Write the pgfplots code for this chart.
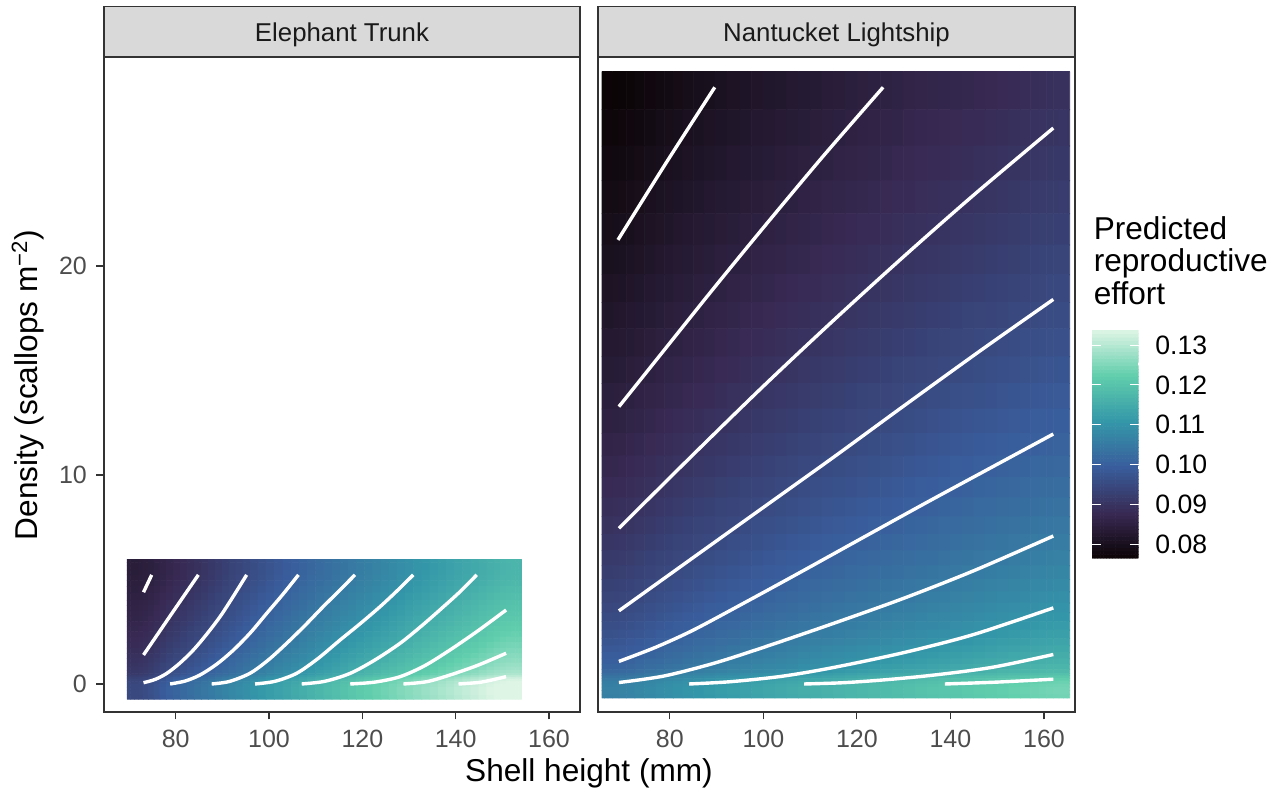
\documentclass[border=0pt]{standalone}
\usepackage{fontspec}
\setmainfont{Liberation Sans}
\usepackage{pgfplots}
\usepgfplotslibrary{patchplots}
\pgfplotsset{compat=1.18}
\definecolor{axgray}{HTML}{333333}
\definecolor{tickgray}{HTML}{4D4D4D}
\definecolor{stripgray}{HTML}{D9D9D9}
\definecolor{striptext}{HTML}{1A1A1A}
\pgfplotsset{
  colormap={mako}{rgb255=(11,4,5) rgb255=(56,42,84) rgb255=(57,93,156) rgb255=(52,151,169) rgb255=(96,206,172) rgb255=(222,245,229)},
  rasterax/.style={scale only axis, width=238pt, height=327.5pt,
    xmin=64.63, xmax=166.64, ymin=-1.34, ymax=30.0, view={0}{90}, hide axis,
    colormap name=mako, point meta min=0.0765, point meta max=0.1338},
  frameax/.style={scale only axis, width=238pt, height=327.5pt,
    xmin=64.63, xmax=166.64, ymin=-1.34, ymax=30.0,
    axis line style={draw=axgray, line width=0.65pt},
    tick align=outside, tick pos=left, major tick length=3.75pt,
    tick style={axgray, line width=0.55pt},
    xtick={80,100,120,140,160}, ytick={0,10,20},
    tick label style={font=\fontsize{12.5}{15}\selectfont, text=tickgray},
    xticklabel style={anchor=north, inner sep=0pt, yshift=-5.3pt},
    yticklabel style={anchor=east, inner sep=0pt, xshift=-4.6pt},
    /pgf/number format/assume math mode=true},
  cline/.style={white, line width=1.7pt, smooth, no markers},
  smoothpatch/.style={patch, patch type=biquadratic, shader=flat, patch refines=3, point meta=z}
}
\begin{document}
\begin{tikzpicture}
\useasboundingbox (0,0) rectangle (640.5pt,396pt);
% strips
\draw[fill=stripgray, draw=axgray, line width=0.65pt] (52pt,367.5pt) rectangle (290pt,392.65pt);
\draw[fill=stripgray, draw=axgray, line width=0.65pt] (299pt,367.5pt) rectangle (537.5pt,392.65pt);
\node[anchor=base, font=\fontsize{12.9}{15}\selectfont, text=striptext, inner sep=0pt] at (171pt,375.15pt) {Elephant Trunk};
\node[anchor=base, font=\fontsize{12.9}{15}\selectfont, text=striptext, inner sep=0pt] at (418.25pt,375.15pt) {Nantucket Lightship};

% ---------------- Elephant Trunk raster (biquadratic patches: corners, edge midpoints, centre)
\begin{axis}[rasterax, at={(52pt,40pt)}, anchor=south west]
\addplot3[smoothpatch] coordinates {
(69.6,-0.73,.0950) (78,-0.73,.0993) (78,0.4,.0958) (69.6,0.4,.0921) (73.1,-0.73,.0950) (78,0,.0993) (73.1,0.4,.0921) (69.6,0,.0950) (73.1,0,.0950)
(69.6,0.4,.0921) (78,0.4,.0958) (78,2,.0915) (69.6,2,.0885) (73.1,0.4,.0921) (78,1,.0938) (73.1,2,.0885) (69.6,1,.0904) (73.1,1,.0904)
(69.6,2,.0885) (78,2,.0915) (78,4,.0883) (69.6,4,.0858) (73.1,2,.0885) (78,3,.0898) (73.1,4,.0858) (69.6,3,.0870) (73.1,3,.0870)
(69.6,4,.0858) (78,4,.0883) (78,5.96,.0867) (69.6,5.96,.0845) (73.1,4,.0858) (78,5.22,.0867) (73.1,5.96,.0845) (69.6,5.22,.0845) (73.1,5.22,.0845)
(78,-0.73,.0993) (90,-0.73,.1062) (90,0.4,.1024) (78,0.4,.0958) (84,-0.73,.1029) (90,0,.1062) (84,0.4,.0992) (78,0,.0993) (84,0,.1029)
(78,0.4,.0958) (90,0.4,.1024) (90,2,.0977) (78,2,.0915) (84,0.4,.0992) (90,1,.1002) (84,2,.0946) (78,1,.0938) (84,1,.0970)
(78,2,.0915) (90,2,.0977) (90,4,.0942) (78,4,.0883) (84,2,.0946) (90,3,.0958) (84,4,.0911) (78,3,.0898) (84,3,.0927)
(78,4,.0883) (90,4,.0942) (90,5.96,.0925) (78,5.96,.0867) (84,4,.0911) (90,5.22,.0925) (84,5.96,.0894) (78,5.22,.0867) (84,5.22,.0894)
(90,-0.73,.1062) (103,-0.73,.1130) (103,0.4,.1091) (90,0.4,.1024) (96,-0.73,.1095) (103,0,.1130) (96,0.4,.1056) (90,0,.1062) (96,0,.1095)
(90,0.4,.1024) (103,0.4,.1091) (103,2,.1042) (90,2,.0977) (96,0.4,.1056) (103,1,.1068) (96,2,.1009) (90,1,.1002) (96,1,.1034)
(90,2,.0977) (103,2,.1042) (103,4,.1006) (90,4,.0942) (96,2,.1009) (103,3,.1023) (96,4,.0973) (90,3,.0958) (96,3,.0989)
(90,4,.0942) (103,4,.1006) (103,5.96,.0988) (90,5.96,.0925) (96,4,.0973) (103,5.22,.0988) (96,5.96,.0956) (90,5.22,.0925) (96,5.22,.0956)
(103,-0.73,.1130) (117,-0.73,.1198) (117,0.4,.1156) (103,0.4,.1091) (110,-0.73,.1164) (117,0,.1198) (110,0.4,.1124) (103,0,.1130) (110,0,.1164)
(103,0.4,.1091) (117,0.4,.1156) (117,2,.1105) (103,2,.1042) (110,0.4,.1124) (117,1,.1132) (110,2,.1075) (103,1,.1068) (110,1,.1101)
(103,2,.1042) (117,2,.1105) (117,4,.1066) (103,4,.1006) (110,2,.1075) (117,3,.1084) (110,4,.1038) (103,3,.1023) (110,3,.1055)
(103,4,.1006) (117,4,.1066) (117,5.96,.1047) (103,5.96,.0988) (110,4,.1038) (117,5.22,.1047) (110,5.96,.1020) (103,5.22,.0988) (110,5.22,.1020)
(117,-0.73,.1198) (131,-0.73,.1259) (131,0.4,.1215) (117,0.4,.1156) (124,-0.73,.1229) (131,0,.1259) (124,0.4,.1186) (117,0,.1198) (124,0,.1229)
(117,0.4,.1156) (131,0.4,.1215) (131,2,.1161) (117,2,.1105) (124,0.4,.1186) (131,1,.1190) (124,2,.1133) (117,1,.1132) (124,1,.1161)
(117,2,.1105) (131,2,.1161) (131,4,.1121) (117,4,.1066) (124,2,.1133) (131,3,.1140) (124,4,.1093) (117,3,.1084) (124,3,.1111)
(117,4,.1066) (131,4,.1121) (131,5.96,.1101) (117,5.96,.1047) (124,4,.1093) (131,5.22,.1101) (124,5.96,.1074) (117,5.22,.1047) (124,5.22,.1074)
(131,-0.73,.1259) (145,-0.73,.1319) (145,0.4,.1272) (131,0.4,.1215) (138,-0.73,.1289) (145,0,.1319) (138,0.4,.1244) (131,0,.1259) (138,0,.1289)
(131,0.4,.1215) (145,0.4,.1272) (145,2,.1214) (131,2,.1161) (138,0.4,.1244) (145,1,.1245) (138,2,.1189) (131,1,.1190) (138,1,.1218)
(131,2,.1161) (145,2,.1214) (145,4,.1171) (131,4,.1121) (138,2,.1189) (145,3,.1191) (138,4,.1147) (131,3,.1140) (138,3,.1166)
(131,4,.1121) (145,4,.1171) (145,5.96,.1150) (131,5.96,.1101) (138,4,.1147) (145,5.22,.1150) (138,5.96,.1127) (131,5.22,.1101) (138,5.22,.1127)
(145,-0.73,.1319) (154.1,-0.73,.1343) (154.1,0.4,.1295) (145,0.4,.1272) (150.8,-0.73,.1343) (154.1,0,.1343) (150.8,0.4,.1295) (145,0,.1319) (150.8,0,.1343)
(145,0.4,.1272) (154.1,0.4,.1295) (154.1,2,.1236) (145,2,.1214) (150.8,0.4,.1295) (154.1,1,.1267) (150.8,2,.1236) (145,1,.1245) (150.8,1,.1267)
(145,2,.1214) (154.1,2,.1236) (154.1,4,.1191) (145,4,.1171) (150.8,2,.1236) (154.1,3,.1211) (150.8,4,.1191) (145,3,.1191) (150.8,3,.1211)
(145,4,.1171) (154.1,4,.1191) (154.1,5.96,.1169) (145,5.96,.1150) (150.8,4,.1191) (154.1,5.22,.1169) (150.8,5.96,.1169) (145,5.22,.1150) (150.8,5.22,.1169)
};
\end{axis}
\begin{axis}[frameax, at={(52pt,40pt)}, anchor=south west]
\addplot[cline] coordinates {(73.1,4.39) (74.85,5.22)};
\addplot[cline] coordinates {(73.1,1.39) (79,3.32) (84.85,5.22)};
\addplot[cline] coordinates {(73.1,0.06) (75.6,0.22) (78.1,0.51) (80.9,1.0) (83.8,1.63) (86.6,2.37) (89.5,3.22) (92.3,4.18) (95.2,5.22)};
\addplot[cline] coordinates {(78.8,0) (82,0.14) (85.2,0.43) (88.8,0.95) (92.4,1.63) (96,2.45) (99.5,3.38) (103,4.3) (106.3,5.22)};
\addplot[cline] coordinates {(87.7,0) (91.5,0.12) (95.9,0.51) (99.8,1.14) (103.8,1.95) (107.7,2.8) (111.6,3.7) (115,4.45) (118.4,5.22)};
\addplot[cline] coordinates {(97,0) (101.3,0.13) (105.9,0.51) (110.5,1.22) (115.2,2.1) (119.5,2.88) (123.8,3.7) (127.4,4.45) (130.9,5.22)};
\addplot[cline] coordinates {(107,0) (112,0.13) (117.4,0.51) (122.7,1.15) (128.1,1.95) (132.8,2.8) (137.4,3.7) (141,4.43) (144.5,5.22)};
\addplot[cline] coordinates {(117.4,0) (122.7,0.09) (128.1,0.35) (133.4,0.88) (138.8,1.63) (144.8,2.55) (150.8,3.54)};
\addplot[cline] coordinates {(128.8,0) (133.8,0.11) (138.8,0.43) (144.8,0.9) (150.8,1.47)};
\addplot[cline] coordinates {(140.6,0) (145.5,0.09) (150.8,0.35)};
\end{axis}

% ---------------- Nantucket Lightship raster
\begin{axis}[rasterax, at={(299pt,40pt)}, anchor=south west, width=238.5pt]
\addplot3[smoothpatch] coordinates {
(65.5,-0.67,.1062) (77,-0.67,.1082) (77,0.5,.1041) (65.5,0.5,.1021) (69.1,-0.67,.1062) (77,0,.1082) (69.1,0.5,.1021) (65.5,0,.1062) (69.1,0,.1062)
(65.5,0.5,.1021) (77,0.5,.1041) (77,3,.0977) (65.5,3,.0958) (69.1,0.5,.1021) (77,1.5,.1008) (69.1,3,.0958) (65.5,1.5,.0989) (69.1,1.5,.0989)
(65.5,3,.0958) (77,3,.0977) (77,8,.0912) (65.5,8,.0895) (69.1,3,.0958) (77,5,.0947) (69.1,8,.0895) (65.5,5,.0929) (69.1,5,.0929)
(65.5,8,.0895) (77,8,.0912) (77,17,.0842) (65.5,17,.0825) (69.1,8,.0895) (77,12,.0877) (69.1,17,.0825) (65.5,12,.0860) (69.1,12,.0860)
(65.5,17,.0825) (77,17,.0842) (77,29.3,.0777) (65.5,29.3,.0762) (69.1,17,.0825) (77,22.5,.0809) (69.1,29.3,.0762) (65.5,22.5,.0793) (69.1,22.5,.0793)
(77,-0.67,.1082) (95,-0.67,.1122) (95,0.5,.1079) (77,0.5,.1041) (85,-0.67,.1102) (95,0,.1122) (85,0.5,.1060) (77,0,.1082) (85,0,.1102)
(77,0.5,.1041) (95,0.5,.1079) (95,3,.1015) (77,3,.0977) (85,0.5,.1060) (95,1.5,.1047) (85,3,.0995) (77,1.5,.1008) (85,1.5,.1027)
(77,3,.0977) (95,3,.1015) (95,8,.0947) (77,8,.0912) (85,3,.0995) (95,5,.0983) (85,8,.0929) (77,5,.0947) (85,5,.0964)
(77,8,.0912) (95,8,.0947) (95,17,.0873) (77,17,.0842) (85,8,.0929) (95,12,.0909) (85,17,.0856) (77,12,.0877) (85,12,.0892)
(77,17,.0842) (95,17,.0873) (95,29.3,.0808) (77,29.3,.0777) (85,17,.0856) (95,22.5,.0840) (85,29.3,.0792) (77,22.5,.0809) (85,22.5,.0824)
(95,-0.67,.1122) (115,-0.67,.1160) (115,0.5,.1114) (95,0.5,.1079) (105,-0.67,.1142) (115,0,.1160) (105,0.5,.1095) (95,0,.1122) (105,0,.1142)
(95,0.5,.1079) (115,0.5,.1114) (115,3,.1048) (95,3,.1015) (105,0.5,.1095) (115,1.5,.1080) (105,3,.1033) (95,1.5,.1047) (105,1.5,.1064)
(95,3,.1015) (115,3,.1048) (115,8,.0980) (95,8,.0947) (105,3,.1033) (115,5,.1017) (105,8,.0964) (95,5,.0983) (105,5,.1001)
(95,8,.0947) (115,8,.0980) (115,17,.0902) (95,17,.0873) (105,8,.0964) (115,12,.0941) (105,17,.0888) (95,12,.0909) (105,12,.0926)
(95,17,.0873) (115,17,.0902) (115,29.3,.0836) (95,29.3,.0808) (105,17,.0888) (115,22.5,.0869) (105,29.3,.0822) (95,22.5,.0840) (105,22.5,.0855)
(115,-0.67,.1160) (135,-0.67,.1194) (135,0.5,.1145) (115,0.5,.1114) (125,-0.67,.1177) (135,0,.1194) (125,0.5,.1132) (115,0,.1160) (125,0,.1177)
(115,0.5,.1114) (135,0.5,.1145) (135,3,.1076) (115,3,.1048) (125,0.5,.1132) (135,1.5,.1109) (125,3,.1063) (115,1.5,.1080) (125,1.5,.1096)
(115,3,.1048) (135,3,.1076) (135,8,.1007) (115,8,.0980) (125,3,.1063) (135,5,.1044) (125,8,.0994) (115,5,.1017) (125,5,.1031)
(115,8,.0980) (135,8,.1007) (135,17,.0928) (115,17,.0902) (125,8,.0994) (135,12,.0968) (125,17,.0916) (115,12,.0941) (125,12,.0954)
(115,17,.0902) (135,17,.0928) (135,29.3,.0862) (115,29.3,.0836) (125,17,.0916) (135,22.5,.0893) (125,29.3,.0849) (115,22.5,.0869) (125,22.5,.0881)
(135,-0.67,.1194) (155,-0.67,.1225) (155,0.5,.1176) (135,0.5,.1145) (145,-0.67,.1209) (155,0,.1225) (145,0.5,.1162) (135,0,.1194) (145,0,.1209)
(135,0.5,.1145) (155,0.5,.1176) (155,3,.1103) (135,3,.1076) (145,0.5,.1162) (155,1.5,.1138) (145,3,.1090) (135,1.5,.1109) (145,1.5,.1124)
(135,3,.1076) (155,3,.1103) (155,8,.1032) (135,8,.1007) (145,3,.1090) (155,5,.1070) (145,8,.1020) (135,5,.1044) (145,5,.1057)
(135,8,.1007) (155,8,.1032) (155,17,.0952) (135,17,.0928) (145,8,.1020) (155,12,.0992) (145,17,.0941) (135,12,.0968) (145,12,.0981)
(135,17,.0928) (155,17,.0952) (155,29.3,.0881) (135,29.3,.0862) (145,17,.0941) (155,22.5,.0916) (145,29.3,.0869) (135,22.5,.0893) (145,22.5,.0904)
(155,-0.67,.1225) (165.5,-0.67,.1235) (165.5,0.5,.1184) (155,0.5,.1176) (162,-0.67,.1235) (165.5,0,.1235) (162,0.5,.1184) (155,0,.1225) (162,0,.1235)
(155,0.5,.1176) (165.5,0.5,.1184) (165.5,3,.1112) (155,3,.1103) (162,0.5,.1184) (165.5,1.5,.1147) (162,3,.1112) (155,1.5,.1138) (162,1.5,.1147)
(155,3,.1103) (165.5,3,.1112) (165.5,8,.1040) (155,8,.1032) (162,3,.1112) (165.5,5,.1078) (162,8,.1040) (155,5,.1070) (162,5,.1078)
(155,8,.1032) (165.5,8,.1040) (165.5,17,.0960) (155,17,.0952) (162,8,.1040) (165.5,12,.1000) (162,17,.0960) (155,12,.0992) (162,12,.1000)
(155,17,.0952) (165.5,17,.0960) (165.5,29.3,.0889) (155,29.3,.0881) (162,17,.0960) (165.5,22.5,.0924) (162,29.3,.0889) (155,22.5,.0916) (162,22.5,.0924)
};
\end{axis}
\begin{axis}[frameax, at={(299pt,40pt)}, anchor=south west, width=238.5pt, ytick=\empty]
\addplot[cline] coordinates {(68.9,21.25) (79.1,24.9) (89.6,28.55)};
\addplot[cline] coordinates {(69.1,13.27) (78.8,15.98) (89,18.83) (99.5,21.7) (112.5,25.18) (125.6,28.55)};
\addplot[cline] coordinates {(69.1,7.45) (85,10.98) (100,14.25) (115,17.4) (130,20.45) (145,23.4) (162,26.6)};
\addplot[cline] coordinates {(69.1,3.5) (85,6.05) (100,8.45) (115,10.85) (130,13.3) (146.6,15.98) (162,18.4)};
\addplot[cline] coordinates {(69.1,1.08) (77,1.76) (85.2,2.6) (97.3,4.05) (108.1,5.37) (121.5,7.03) (135.2,8.72) (148.5,10.33) (162,11.96)};
\addplot[cline] coordinates {(69.1,0.07) (78.7,0.38) (89.4,0.99) (100,1.75) (115,2.9) (130,4.1) (145,5.42) (162,7.08)};
\addplot[cline] coordinates {(84.1,0) (93,0.11) (104,0.37) (115,0.79) (130,1.5) (145,2.37) (162,3.64)};
\addplot[cline] coordinates {(108.7,0) (117,0.06) (126,0.2) (136.6,0.43) (149,0.8) (162,1.41)};
\addplot[cline] coordinates {(138.8,0) (150,0.09) (162,0.23)};
\end{axis}

% ---------------- colour bar
\begin{axis}[at={(546pt,116.85pt)}, anchor=south west, scale only axis,
  width=23.3pt, height=114.15pt, xmin=0, xmax=1, ymin=0.0765, ymax=0.1338,
  view={0}{90}, hide axis, colormap name=mako, point meta min=0.0765, point meta max=0.1338]
\addplot3[smoothpatch, patch refines=4] coordinates {
(0,.0765,.0765) (1,.0765,.0765) (1,.0908,.0908) (0,.0908,.0908) (0.5,.0765,.0765) (1,.0837,.0837) (0.5,.0908,.0908) (0,.0837,.0837) (0.5,.0837,.0837)
(0,.0908,.0908) (1,.0908,.0908) (1,.1052,.1052) (0,.1052,.1052) (0.5,.0908,.0908) (1,.0980,.0980) (0.5,.1052,.1052) (0,.0980,.0980) (0.5,.0980,.0980)
(0,.1052,.1052) (1,.1052,.1052) (1,.1195,.1195) (0,.1195,.1195) (0.5,.1052,.1052) (1,.1123,.1123) (0.5,.1195,.1195) (0,.1123,.1123) (0.5,.1123,.1123)
(0,.1195,.1195) (1,.1195,.1195) (1,.1338,.1338) (0,.1338,.1338) (0.5,.1195,.1195) (1,.1266,.1266) (0.5,.1338,.1338) (0,.1266,.1266) (0.5,.1266,.1266)
};
\end{axis}
\begin{axis}[at={(546pt,116.85pt)}, anchor=south west, scale only axis,
  width=23.3pt, height=114.15pt, xmin=0, xmax=1, ymin=0.0765, ymax=0.1338,
  axis line style={draw=none}, xtick=\empty,
  ytick={0.08,0.09,0.10,0.11,0.12,0.13}, ytick pos=both, yticklabel pos=right,
  tick align=inside, major tick length=4.5pt, tick style={white, line width=0.5pt},
  yticklabel style={anchor=west, inner sep=0pt, xshift=8.2pt, font=\fontsize{13.3}{15}\selectfont, text=black},
  /pgf/number format/.cd, fixed, fixed zerofill, precision=2, assume math mode=true]
\addplot[draw=none] coordinates {(0.5,0.1)};
\end{axis}

% titles
\node[anchor=base west, font=\fontsize{15.8}{18}\selectfont, inner sep=0pt] at (546.7pt,276pt) {Predicted};
\node[anchor=base west, font=\fontsize{15.8}{18}\selectfont, inner sep=0pt] at (546.7pt,260.15pt) {reproductive};
\node[anchor=base west, font=\fontsize{15.8}{18}\selectfont, inner sep=0pt] at (546.7pt,243.5pt) {effort};
\node[anchor=base, font=\fontsize{15.8}{18}\selectfont, inner sep=0pt] at (294.5pt,5.15pt) {Shell height (mm)};
\node[anchor=base, rotate=90, font=\fontsize{15.8}{18}\selectfont, inner sep=0pt] at (18.8pt,203.5pt) {Density (scallops m\textsuperscript{−2})};
\end{tikzpicture}
\end{document}
